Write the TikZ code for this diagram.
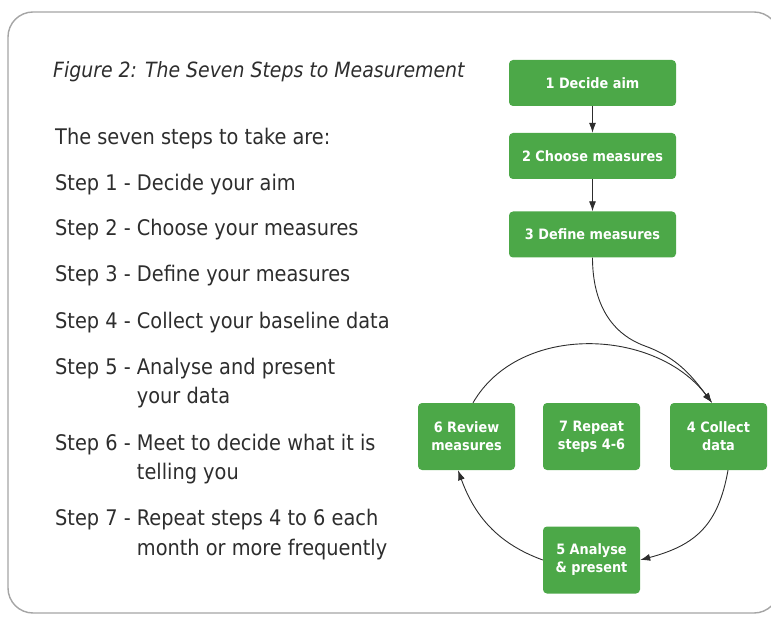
\documentclass[tikz,border=0pt]{standalone}
\usepackage{fontspec}
\usetikzlibrary{arrows.meta}
\IfFontExistsTF{DejaVu Sans Condensed}{\setmainfont{DejaVu Sans Condensed}}{\setmainfont{DejaVu Sans}}

\definecolor{boxgreen}{RGB}{76,168,72}
\definecolor{inkgray}{RGB}{45,45,45}
\definecolor{framegray}{RGB}{165,165,165}

\begin{document}
\begin{tikzpicture}[x=1pt,y=1pt,
  stepbox/.style={fill=boxgreen, rounded corners=4pt, text=white,
    font=\bfseries\fontsize{14.3}{18}\selectfont, align=center, inner sep=0pt},
  widebox/.style={stepbox, minimum width=167pt, minimum height=46pt},
  cyclebox/.style={stepbox, minimum width=97pt, minimum height=67pt},
  bodytext/.style={anchor=base west, inner sep=0pt, text=inkgray,
    font=\fontsize{21.5}{26}\selectfont},
  flow/.style={draw=inkgray, line width=0.9pt, -{Latex[length=10pt,width=7pt]}}
]
\useasboundingbox (0,0) rectangle (771,622);
\clip (0,0) rectangle (771,622);

% outer frame
\draw[framegray, line width=1.4pt, rounded corners=25pt] (8,9) rectangle (779,610);

% caption and list of steps
\node[bodytext, font=\itshape\fontsize{21}{26}\selectfont] (title) at (53,544) {Figure 2: The Seven Steps to Measurement};
\node[bodytext] (intro) at (55,477) {The seven steps to take are:};
\node[bodytext] (s1) at (55,431) {Step 1 - Decide your aim};
\node[bodytext] (s2) at (55,386) {Step 2 - Choose your measures};
\node[bodytext] (s3) at (55,340) {Step 3 - Define your measures};
\node[bodytext] (s4) at (55,294) {Step 4 - Collect your baseline data};
\node[bodytext] (s5) at (55,248) {Step 5 - Analyse and present};
\node[bodytext] (s5b) at (55,219) {\phantom{Step 5 - }your data};
\node[bodytext] (s6) at (55,172) {Step 6 - Meet to decide what it is};
\node[bodytext] (s6b) at (55,143) {\phantom{Step 6 - }telling you};
\node[bodytext] (s7) at (55,97) {Step 7 - Repeat steps 4 to 6 each};
\node[bodytext] (s7b) at (55,67) {\phantom{Step 7 - }month or more frequently};

% flow boxes
\node[widebox] (b1) at (592.5,539) {1 Decide aim};
\node[widebox] (b2) at (592.5,466) {2 Choose measures};
\node[widebox] (b3) at (592.5,387.5) {3 Define measures};
\node[cyclebox] (b6) at (466.5,185.5) {6 Review\\measures};
\node[cyclebox] (b7) at (591.5,185.5) {7 Repeat\\steps 4-6};
\node[cyclebox] (b4) at (718.5,185.5) {4 Collect\\data};
\node[cyclebox] (b5) at (591.5,62) {5 Analyse\\\& present};

% waypoint of the link from step 3 into the cycle
\coordinate (w34) at (645,276);
\coordinate (in4) at ([xshift=-6.5pt]b4.north);

% connectors
\draw[flow] (b1) -- (b2);
\draw[flow] (b2) -- (b3);
\draw[flow] (b3.south) to[out=-90,in=160] (w34) to[out=-20,in=127] (in4);
\draw[flow] ([xshift=6.5pt]b6.north) to[out=60,in=127] (in4);
\draw[flow] ([xshift=9.5pt]b4.south) to[out=-100,in=15,looseness=1.15] (b5.east);
\draw[flow] (b5.west) to[out=160,in=-70] ([xshift=-8.5pt]b6.south);
\end{tikzpicture}
\end{document}
